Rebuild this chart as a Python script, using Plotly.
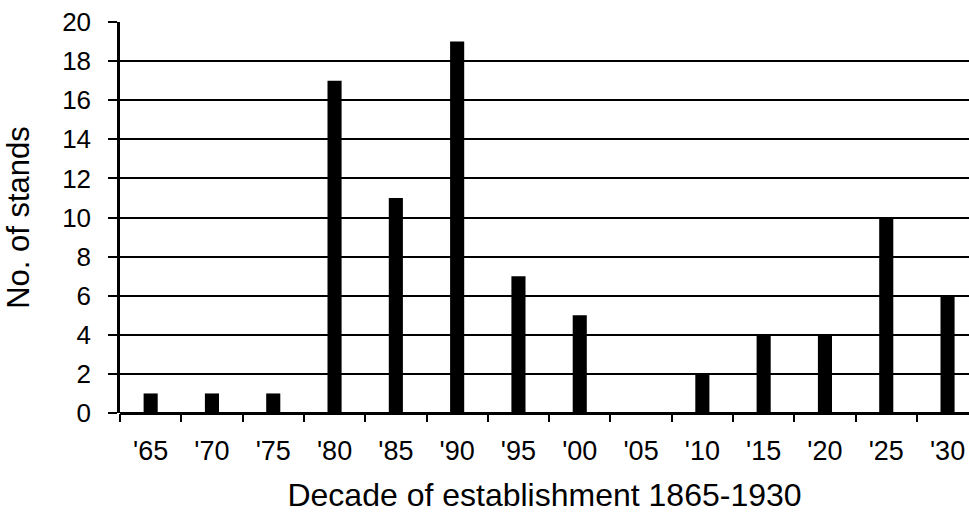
import plotly.graph_objects as go

categories = ["'65", "'70", "'75", "'80", "'85", "'90", "'95", "'00", "'05", "'10", "'15", "'20", "'25", "'30"]
stands = [1, 1, 1, 17, 11, 19, 7, 5, 0, 2, 4, 4, 10, 6]
y_ticks = list(range(0, 21, 2))

fig = go.Figure(go.Bar(x=categories, y=stands, width=0.23,
                       marker=dict(color="black", line=dict(width=0))))

fig.update_layout(
    width=969, height=517,
    margin=dict(l=120, r=0, t=22, b=104),
    paper_bgcolor="white", plot_bgcolor="white",
    font=dict(family="Liberation Sans, Arial, sans-serif", color="black", size=26),
    showlegend=False,
    xaxis=dict(
        type="category", range=[-0.5, 13.35], automargin=False,
        tickson="boundaries", ticks="outside", ticklen=8, tickwidth=1.5, tickcolor="black",
        ticklabelstandoff=19,
        showgrid=False, showline=False,
        tickfont=dict(size=27),
        title=dict(text="Decade of establishment 1865-1930", font=dict(size=32), standoff=18),
    ),
    yaxis=dict(
        range=[0, 20], tickvals=y_ticks, automargin=False,
        ticks="outside", ticklen=9, tickwidth=1.5, tickcolor="black",
        ticklabelstandoff=12,
        showgrid=True, gridcolor="black", gridwidth=1.5,
        showline=True, linecolor="black", linewidth=2.5,
        zeroline=True, zerolinecolor="black", zerolinewidth=2.5,
        tickfont=dict(size=26),
        title=dict(text="No. of stands", font=dict(size=31), standoff=24),
    ),
)

fig.write_html("out.html", config={"displayModeBar": False},
               post_script="document.body.style.margin='0';")
